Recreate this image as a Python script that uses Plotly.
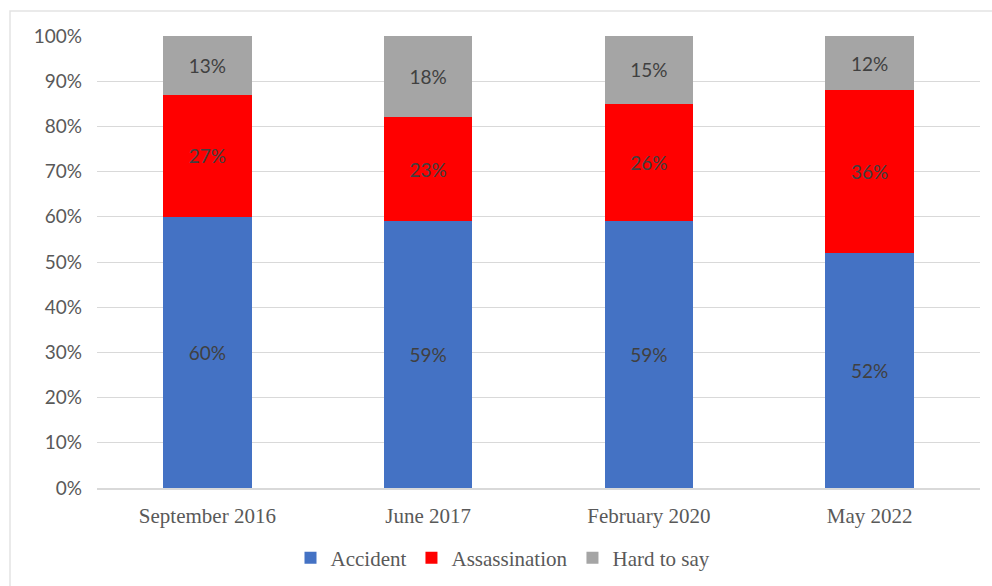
import plotly.graph_objects as go

# Survey waves and answer shares (percent)
waves = ["September 2016", "June 2017", "February 2020", "May 2022"]
accident = [60, 59, 59, 52]
assassination = [27, 23, 26, 36]
hard_to_say = [13, 18, 15, 12]

series = [
    ("Accident", accident, "#4472C4"),
    ("Assassination", assassination, "#FF0000"),
    ("Hard to say", hard_to_say, "#A5A5A5"),
]

fig = go.Figure()
for name, values, color in series:
    fig.add_trace(go.Bar(
        name=name,
        x=waves,
        y=values,
        marker=dict(color=color, line=dict(width=0)),
        text=[f"{v}%" for v in values],
        textposition="inside",
        insidetextanchor="middle",
        textangle=0,
        constraintext="none",
        textfont=dict(family="Lato, sans-serif", size=19, color="#404040"),
        hoverinfo="skip",
    ))

W, H = 992, 586
ml, mr, mt, mb = 97, 12, 36, 98
pw, ph = W - ml - mr, H - mt - mb


def px_x(p):
    return (p - ml) / pw


def px_y(p):
    return (H - mb - p) / ph


fig.update_layout(
    width=W,
    height=H,
    barmode="stack",
    bargap=0.6,
    margin=dict(l=ml, r=mr, t=mt, b=mb, autoexpand=False),
    paper_bgcolor="white",
    plot_bgcolor="white",
    showlegend=True,
    legend=dict(
        orientation="h",
        x=px_x(503),
        xanchor="center",
        y=px_y(558),
        yanchor="middle",
        font=dict(family="Liberation Serif, serif", size=21, color="#595959"),
        itemclick=False,
        itemdoubleclick=False,
        traceorder="normal",
    ),
    shapes=[
        dict(
            type="rect",
            xref="paper", yref="paper",
            x0=px_x(10), x1=px_x(1000),
            y0=px_y(600), y1=px_y(11),
            line=dict(color="#e3e3e3", width=1.5),
            fillcolor="rgba(0,0,0,0)",
            layer="below",
        )
    ],
)

fig.update_xaxes(
    automargin=False,
    showgrid=False,
    showline=True,
    linecolor="#d9d9d9",
    linewidth=1.5,
    ticks="",
    ticklabelstandoff=8,
    tickfont=dict(family="Liberation Serif, serif", size=21, color="#595959"),
)

fig.update_yaxes(
    automargin=False,
    range=[0, 100],
    tickvals=list(range(0, 101, 10)),
    ticktext=[f"{v}%" for v in range(0, 101, 10)],
    showgrid=True,
    gridcolor="#d9d9d9",
    gridwidth=1.2,
    zeroline=False,
    showline=False,
    ticks="",
    ticklabelstandoff=14,
    tickfont=dict(family="Lato, sans-serif", size=19, color="#595959"),
)

fig.write_html("out.html")
